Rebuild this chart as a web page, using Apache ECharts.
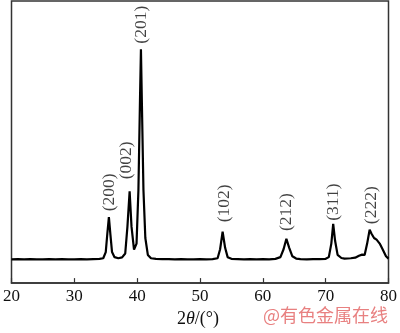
<!DOCTYPE html>
<html><head><meta charset="utf-8">
<script src="https://cdn.jsdelivr.net/npm/echarts@6/dist/echarts.min.js"></script>
<style>html,body{margin:0;padding:0;background:#fff}#c{width:400px;height:333px}</style>
</head><body><div id="c"></div>
<script>
// 2θ angles (degrees) and intensity (a.u.)
var angles = [20,21,22,23,24,25,26,27,28,29,30,31,32,33,34,34.6,35.0,35.25,35.5,35.75,36.0,36.4,37.0,37.6,38.1,38.45,38.8,39.1,39.5,39.9,40.2,40.45,40.6,40.75,41.0,41.3,41.7,42.2,43,44,45,46,47,48,49,50,51,52,52.8,53.2,53.6,54.0,54.4,55,56,57,58,59,60,61,62,62.8,63.3,63.75,64.2,64.7,65.3,66,67,68,69,70,70.5,70.9,71.2,71.5,71.9,72.5,73,74,74.7,75.3,75.8,76.2,76.6,77.0,77.3,77.7,78.1,78.6,79.1,79.6,80];
var intensity = [84,85,84,85,84,84,85,84,85,84,84,85,84,85,86,88,110,175,234,170,110,92,88,91,105,200,325,200,119,140,330,650,829,640,330,160,100,88,86,85,85,84,85,84,84,85,84,85,88,120,182,125,92,86,85,84,85,84,85,84,86,92,120,157,125,95,87,85,84,85,85,86,92,140,210,150,100,89,87,88,90,97,101,100,140,189,175,160,154,140,118,95,87];
// peak labels (Miller indices) and where their centres sit
var peakNames = ['(200)','(002)','(201)','(102)','(212)','(311)','(222)'];
var peakLabelX = [35.55,38.3,40.6,53.9,63.75,71.25,77.3];
var peakLabelY = [322,435,916,283,252,287,276];
var xTicks = [20,30,40,50,60,70,80];

var chart = echarts.init(document.getElementById('c'), null, {renderer:'canvas'});
var lineData = angles.map(function(a,i){return [a,intensity[i]];});
var labelData = peakNames.map(function(n,i){return {name:n,value:[peakLabelX[i],peakLabelY[i]]};});
var serif = 'Liberation Serif';
chart.setOption({
  animation:false,
  backgroundColor:'#fff',
  grid:{left:8,right:8,top:1,bottom:46,show:true,borderColor:'#333',borderWidth:1.5,backgroundColor:'transparent'},
  xAxis:{type:'value',min:xTicks[0],max:xTicks[xTicks.length-1],interval:10,
    axisLine:{lineStyle:{color:'#333',width:1.5}},
    axisTick:{inside:true,length:5,lineStyle:{color:'#333',width:1.2}},
    splitLine:{show:false},
    axisLabel:{fontFamily:serif,fontSize:17,color:'#111',margin:5},
    name:'2{i|θ}/(°)',nameLocation:'middle',nameGap:19,
    nameTextStyle:{fontFamily:serif,fontSize:18,color:'#111',padding:[0,4,0,0],
      rich:{i:{fontFamily:serif,fontSize:18,fontStyle:'italic',color:'#111'}}}
  },
  yAxis:{type:'value',min:0,max:1000,show:false,splitLine:{show:false}},
  graphic:[{type:'text',left:263,top:306,style:{text:'@有色金属在线',fill:'#e88080',font:'18px "Noto Sans CJK SC"'}}],
  series:[
    {type:'line',data:lineData,showSymbol:false,symbol:'none',lineStyle:{color:'#000',width:2.2},z:3},
    {type:'scatter',data:labelData,symbolSize:1,itemStyle:{color:'rgba(0,0,0,0)'},
     label:{show:true,position:'inside',rotate:90,formatter:'{b}',fontFamily:serif,fontSize:17.5,color:'#111',align:'center',verticalAlign:'middle'},z:4}
  ]
});
</script></body></html>
